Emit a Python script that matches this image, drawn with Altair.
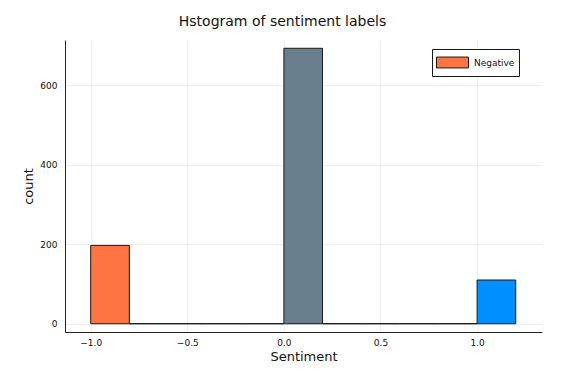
import altair as alt
import pandas as pd

# Data
bin_start = [-1.0, -0.8, -0.6, -0.4, -0.2, 0.0, 0.2, 0.4, 0.6, 0.8, 1.0]
bin_end = [-0.8, -0.6, -0.4, -0.2, 0.0, 0.2, 0.4, 0.6, 0.8, 1.0, 1.2]
counts = [197, 0, 0, 0, 0, 693, 0, 0, 0, 0, 110]
series = ["Negative", "Negative", "Negative", "Negative", "Negative",
          "Neutral", "Neutral", "Neutral", "Neutral", "Neutral", "Positive"]
series_names = ["Negative", "Neutral", "Positive"]
series_colors = ["#FF7443", "#6A7F8D", "#008FFF"]
x_ticks = [-1.0, -0.5, 0.0, 0.5, 1.0]
y_ticks = [0, 200, 400, 600]

df = pd.DataFrame({"start": bin_start, "end": bin_end, "count": counts, "series": series})

FONT = "DejaVu Sans"

chart = alt.Chart(df).mark_rect(stroke="#1a1a1a", strokeWidth=1).encode(
    x=alt.X("start:Q",
            scale=alt.Scale(domain=[-1.133, 1.336], nice=False, zero=False),
            axis=alt.Axis(values=x_ticks, format=".1f", title="Sentiment",
                          ticks=False, labelPadding=6, titlePadding=3,
                          labelFontSize=9, titleFontSize=13, titleFontWeight="normal",
                          grid=True, gridColor="#f0f0f0", domainColor="#222222",
                          labelColor="#111111", titleColor="#111111", labelFont=FONT, titleFont=FONT)),
    x2="end:Q",
    y=alt.Y("count:Q",
            scale=alt.Scale(domain=[-20.8, 713.8], nice=False, zero=False),
            axis=alt.Axis(values=y_ticks, format="d", title="count",
                          ticks=False, labelPadding=8, titlePadding=4,
                          labelFontSize=9, titleFontSize=13, titleFontWeight="normal",
                          grid=True, gridColor="#f0f0f0", domainColor="#222222",
                          labelColor="#111111", titleColor="#111111", labelFont=FONT, titleFont=FONT)),
    y2=alt.datum(0),
    color=alt.Color("series:N",
                    scale=alt.Scale(domain=series_names, range=series_colors),
                    legend=alt.Legend(values=["Negative"], title=None, orient="none",
                                      legendX=367, legendY=9,
                                      symbolType="M-1,-0.34H1V0.34H-1Z", symbolSize=1024,
                                      symbolStrokeColor="#1a1a1a", symbolStrokeWidth=1,
                                      clipHeight=19, labelFontSize=9, labelFont=FONT,
                                      labelOffset=5, labelColor="#111111",
                                      labelExpr="datum.label + '\u00a0\u00a0'",
                                      strokeColor="#1a1a1a", fillColor="white", padding=4)),
).properties(
    width=477,
    height=292,
    padding={"left": 57, "top": 32, "right": 38, "bottom": 31},
    autosize=alt.AutoSizeParams(type="none"),
    title=alt.TitleParams("Hstogram of sentiment labels", fontSize=14, font=FONT,
                          fontWeight="normal", color="#111111", anchor="middle",
                          dx=-21, offset=11),
).configure_view(stroke=None)

chart.save("out.html", embed_options={"renderer": "svg", "actions": False})
